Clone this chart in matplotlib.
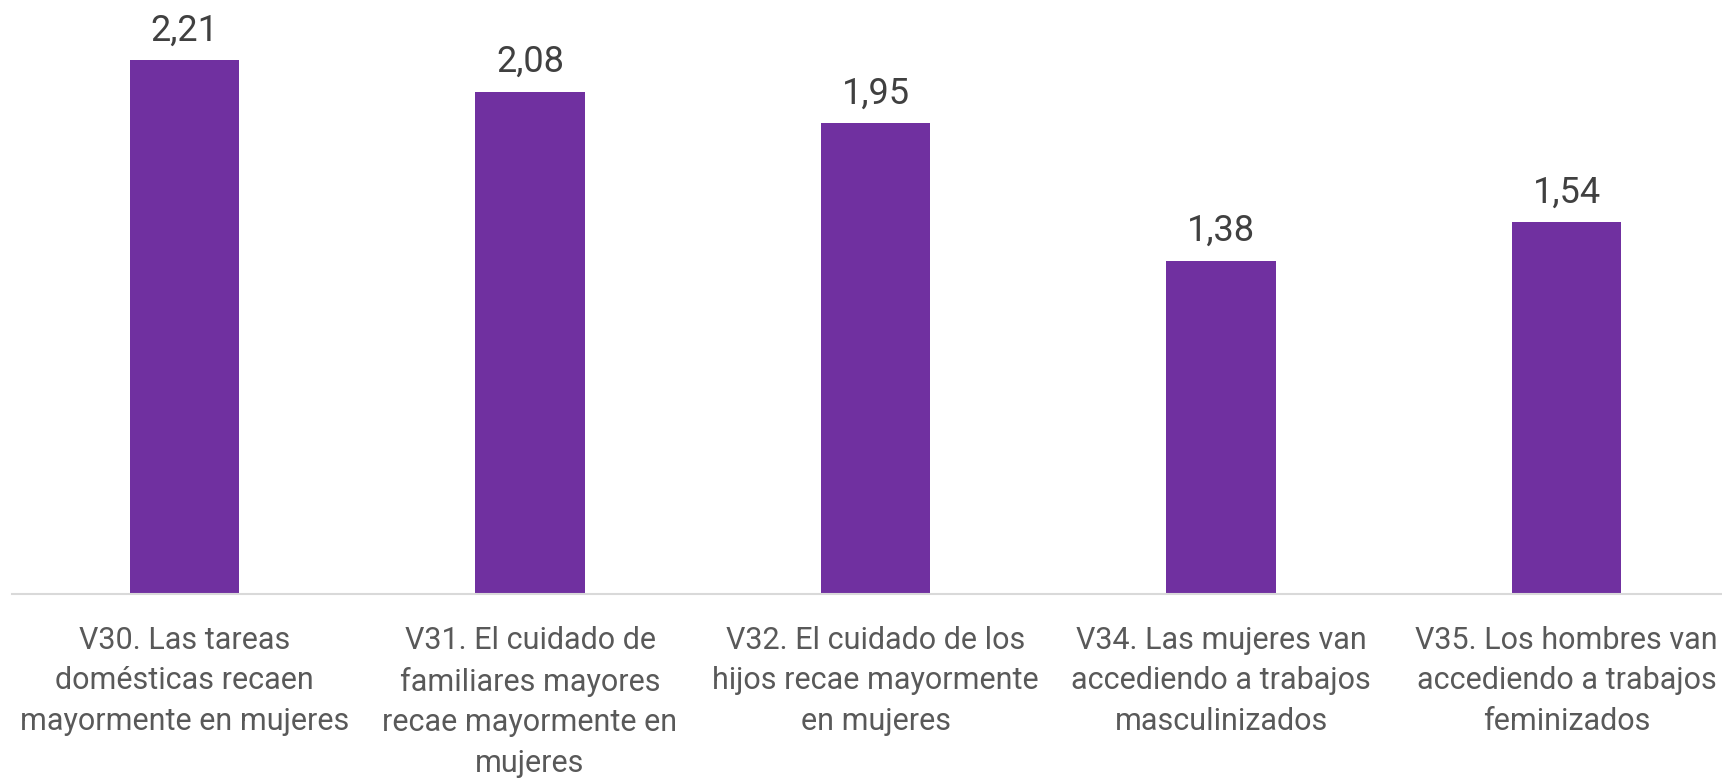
import matplotlib.pyplot as plt
import numpy as np

categories = ['V30. Las tareas\ndomésticas recaen\nmayormente en mujeres',
              'V31. El cuidado de\nfamiliares mayores\nrecae mayormente en\nmujeres',
              'V32. El cuidado de los\nhijos recae mayormente\nen mujeres',
              'V34. Las mujeres van\naccediendo a trabajos\nmasculinizados',
              'V35. Los hombres van\naccediendo a trabajos\nfeminizados']
values = [2.21, 2.08, 1.95, 1.38, 1.54]
valueLabels = ['2,21', '2,08', '1,95', '1,38', '1,54']

barColor = '#7030A0'

plt.rcParams['font.family'] = ['Roboto', 'DejaVu Sans']

fig = plt.figure(figsize=(17.22, 7.81), dpi=100)
ax = fig.add_axes([11.8 / 1722, 187 / 781, 1710.2 / 1722, 594 / 781])

x = np.arange(len(values))
bars = ax.bar(x, values, width=0.316, color=barColor)

for rect, lab in zip(bars, valueLabels):
	ax.annotate(lab, (rect.get_x() + rect.get_width() / 2, rect.get_height()),
				xytext=(0, 14), textcoords='offset points',
				ha='center', va='baseline', fontsize=26, color='#404040')

ax.set_xlim(-0.5, 4.45)
ax.set_ylim(0, 2.459)
ax.set_xticks(x)
ax.set_xticklabels(categories, fontsize=22, color='#595959', linespacing=1.5)
ax.tick_params(axis='x', length=0, pad=23)
ax.set_yticks([])
for side in ['top', 'right', 'left']:
	ax.spines[side].set_visible(False)
ax.spines['bottom'].set_color('#D9D9D9')
ax.spines['bottom'].set_linewidth(1.5)

fig.savefig('out.png', dpi=100)
